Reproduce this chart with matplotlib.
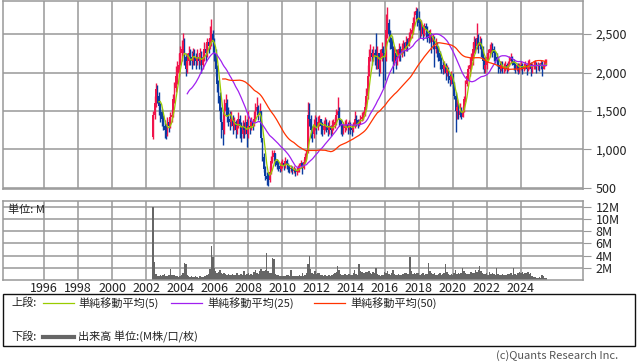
import numpy as np
import pandas as pd
import matplotlib
matplotlib.use("Agg")
import matplotlib.pyplot as plt
from matplotlib.patches import Rectangle
from matplotlib.lines import Line2D
from matplotlib.transforms import blended_transform_factory

FONT = ['Noto Sans CJK JP', 'DejaVu Sans']
plt.rcParams['font.family'] = FONT

# ---------------- data (monthly, Jun 2002 .. Jul 2025) ----------------
start_year, start_month = 2002, 6
first_open = 1160

close = [
    1450, 1600, 1780, 1700, 1560, 1480, 1400,                                  # 2002
    1300, 1250, 1200, 1350, 1300, 1420, 1450, 1650, 1800, 1950, 2000, 2100,    # 2003
    2250, 2300, 2400, 2200, 2050, 2150, 2250, 2200, 2150, 2250, 2200, 2150,    # 2004
    2200, 2150, 2250, 2100, 2200, 2300, 2250, 2400, 2350, 2450, 2500, 2400,    # 2005
    2250, 2050, 1850, 1700, 1500, 1350, 1250, 1500, 1600, 1450, 1400, 1350,    # 2006
    1400, 1300, 1350, 1250, 1300, 1400, 1300, 1200, 1300, 1250, 1350, 1200,    # 2007
    1300, 1280, 1350, 1300, 1400, 1500, 1550, 1450, 1500, 1150, 900, 750,      # 2008
    650, 620, 600, 700, 850, 900, 950, 850, 800, 780, 750, 800,                # 2009
    820, 780, 850, 800, 760, 740, 760, 720, 740, 700, 720, 760,                # 2010
    780, 820, 760, 830, 900, 950, 1450, 1400, 1250, 1200, 1300, 1350,          # 2011
    1300, 1350, 1400, 1300, 1250, 1300, 1350, 1300, 1250, 1300, 1250, 1300,    # 2012
    1320, 1350, 1450, 1500, 1380, 1300, 1250, 1280, 1300, 1320, 1280, 1320,    # 2013
    1280, 1250, 1300, 1400, 1380, 1330, 1350, 1400, 1420, 1450, 1550, 1700,    # 2014
    1950, 2200, 2250, 2200, 2250, 2200, 2150, 2250, 2050, 2200, 2300, 2250,    # 2015
    2200, 2550, 2650, 2500, 2450, 2300, 2200, 2250, 2150, 2200, 2300, 2250,    # 2016
    2300, 2350, 2300, 2400, 2350, 2450, 2500, 2550, 2650, 2750, 2800, 2700,    # 2017
    2650, 2550, 2600, 2500, 2600, 2550, 2500, 2450, 2500, 2400, 2450, 2300,    # 2018
    2350, 2300, 2250, 2150, 2100, 2050, 2100, 2000, 2050, 1950, 1900, 1950,    # 2019
    1850, 1700, 1500, 1550, 1450, 1500, 1420, 1500, 1650, 1850, 1950, 2050,    # 2020
    2100, 2150, 2300, 2400, 2350, 2450, 2350, 2400, 2300, 2150, 2050, 2100,    # 2021
    2200, 2250, 2300, 2350, 2300, 2250, 2200, 2150, 2100, 2050, 2100, 2050,    # 2022
    2050, 2100, 2050, 2100, 2150, 2200, 2150, 2100, 2050, 2100, 2050, 2080,    # 2023
    2100, 2050, 2080, 2100, 2050, 2100, 2120, 2050, 2080, 2100, 2120, 2080,    # 2024
    2100, 2080, 2120, 2050, 2100, 2130, 2150,                                  # 2025
]
high = [
    1500, 1700, 1870, 1840, 1750, 1600, 1520,
    1450, 1380, 1330, 1420, 1400, 1480, 1520, 1720, 1880, 2080, 2150, 2250,
    2350, 2420, 2520, 2450, 2250, 2250, 2350, 2300, 2280, 2320, 2300, 2250,
    2300, 2250, 2320, 2280, 2280, 2400, 2380, 2450, 2450, 2600, 2700, 2550,
    2450, 2300, 2100, 1900, 1750, 1550, 1400, 1650, 1720, 1650, 1550, 1500,
    1500, 1450, 1420, 1380, 1400, 1480, 1450, 1350, 1380, 1350, 1450, 1400,
    1500, 1400, 1420, 1400, 1500, 1600, 1680, 1580, 1600, 1500, 1150, 950,
    780, 700, 700, 780, 920, 990, 990, 950, 880, 850, 820, 850,
    880, 850, 900, 880, 820, 800, 800, 780, 780, 760, 770, 800,
    820, 860, 840, 880, 950, 990, 1610, 1600, 1450, 1300, 1400, 1450,
    1420, 1440, 1450, 1400, 1350, 1380, 1420, 1400, 1350, 1380, 1320, 1380,
    1400, 1420, 1520, 1680, 1550, 1400, 1330, 1350, 1380, 1400, 1350, 1380,
    1350, 1320, 1360, 1500, 1450, 1400, 1400, 1450, 1480, 1500, 1620, 1800,
    2100, 2300, 2370, 2300, 2350, 2300, 2520, 2350, 2250, 2300, 2400, 2350,
    2300, 2760, 2850, 2700, 2550, 2480, 2350, 2350, 2300, 2300, 2380, 2350,
    2380, 2420, 2400, 2480, 2450, 2530, 2580, 2620, 2720, 2800, 2850, 2840,
    2800, 2700, 2680, 2620, 2650, 2650, 2600, 2550, 2560, 2520, 2500, 2480,
    2450, 2400, 2350, 2280, 2200, 2150, 2150, 2120, 2100, 2070, 2000, 2020,
    2000, 1880, 1750, 1650, 1600, 1600, 1550, 1560, 1700, 1900, 2000, 2100,
    2200, 2250, 2400, 2480, 2450, 2650, 2500, 2480, 2450, 2350, 2200, 2200,
    2250, 2300, 2370, 2400, 2380, 2350, 2280, 2250, 2200, 2150, 2150, 2150,
    2120, 2150, 2130, 2150, 2220, 2250, 2220, 2180, 2120, 2130, 2120, 2120,
    2150, 2130, 2130, 2150, 2120, 2160, 2170, 2140, 2130, 2150, 2160, 2140,
    2140, 2130, 2160, 2150, 2150, 2170, 2180,
]
low = [
    1140, 1400, 1550, 1600, 1450, 1350, 1300,
    1250, 1150, 1140, 1180, 1220, 1280, 1350, 1420, 1600, 1750, 1850, 1950,
    2100, 2150, 2250, 2100, 1950, 2000, 2100, 2100, 2050, 2100, 2100, 2050,
    2100, 2050, 2100, 2000, 2050, 2150, 2150, 2200, 2250, 2300, 2350, 2250,
    2150, 1950, 1750, 1600, 1400, 1150, 1060, 1200, 1450, 1350, 1300, 1250,
    1300, 1200, 1250, 1150, 1200, 1280, 1150, 1100, 1150, 1150, 1200, 1030,
    1150, 1200, 1250, 1250, 1300, 1400, 1450, 1380, 1400, 1100, 850, 700,
    600, 540, 530, 580, 680, 820, 850, 780, 740, 720, 700, 720,
    760, 730, 760, 740, 700, 690, 700, 680, 690, 660, 670, 700,
    700, 760, 680, 740, 820, 880, 950, 1300, 1150, 1100, 1150, 1250,
    1200, 1250, 1300, 1200, 1180, 1200, 1250, 1220, 1180, 1200, 1180, 1200,
    1250, 1280, 1320, 1400, 1300, 1200, 1180, 1200, 1230, 1250, 1200, 1250,
    1200, 1180, 1230, 1280, 1300, 1280, 1300, 1330, 1370, 1380, 1430, 1530,
    1650, 1950, 2150, 2100, 2150, 2100, 2050, 2050, 1950, 2000, 2150, 1800,
    1900, 2150, 2450, 2400, 2300, 2150, 2000, 2100, 2050, 2100, 2150, 2150,
    2200, 2250, 2220, 2280, 2280, 2350, 2420, 2450, 2500, 2600, 2680, 2600,
    2550, 2450, 2480, 2420, 2480, 2450, 2400, 2380, 2400, 2250, 2300, 2070,
    2250, 2200, 2150, 2050, 2000, 1980, 2000, 1900, 1950, 1870, 1820, 1850,
    1800, 1650, 1220, 1400, 1400, 1420, 1400, 1420, 1480, 1620, 1820, 1900,
    1950, 2050, 2100, 2250, 2250, 2300, 2250, 2300, 2200, 2050, 2000, 2000,
    2050, 2150, 2200, 2250, 2200, 2150, 2120, 2080, 2000, 2000, 2020, 2000,
    2000, 2020, 2000, 2020, 2080, 2120, 2100, 2030, 1990, 2020, 1980, 2000,
    2030, 1980, 2020, 2040, 1970, 2020, 2050, 1950, 2000, 2040, 2050, 2000,
    2030, 2020, 2050, 1950, 2040, 2080, 2100,
]
volume = [  # millions
    12.0, 3.0, 1.0, 0.6, 0.7, 0.8, 0.6,
    0.8, 1.0, 0.7, 0.6, 0.9, 1.8, 0.8, 0.9, 0.8, 0.6, 0.7, 0.5,
    0.7, 0.8, 1.2, 2.8, 2.6, 0.8, 0.6, 0.5, 0.6, 0.5, 0.5, 0.6,
    0.5, 0.4, 0.6, 0.5, 0.5, 0.6, 0.7, 0.8, 1.0, 1.8, 5.5, 3.8,
    2.0, 1.5, 1.2, 1.3, 1.6, 1.2, 1.0, 1.1, 1.0, 0.9, 1.0, 0.8,
    0.9, 1.0, 0.9, 0.8, 1.1, 0.9, 0.8, 1.0, 0.9, 1.5, 0.9, 1.0,
    1.2, 0.9, 1.0, 0.8, 1.3, 1.6, 1.2, 1.0, 1.5, 1.8, 1.4, 1.5,
    1.6, 4.4, 1.5, 1.2, 1.2, 3.6, 3.4, 1.0, 0.9, 0.8, 0.7, 0.7,
    0.6, 0.7, 0.7, 0.9, 0.8, 0.6, 1.7, 0.7, 0.6, 0.7, 0.6, 0.7,
    0.8, 0.7, 1.2, 0.6, 0.9, 1.1, 2.7, 3.9, 1.8, 1.2, 1.0, 1.4,
    1.0, 1.2, 1.1, 0.9, 0.8, 0.7, 0.9, 0.6, 0.7, 0.8, 0.7, 0.9,
    1.0, 1.1, 1.3, 2.3, 1.6, 1.0, 0.8, 0.9, 1.0, 0.8, 0.9, 1.0,
    0.8, 0.9, 1.2, 1.6, 1.0, 0.9, 2.7, 1.4, 1.3, 1.1, 1.2, 1.3,
    1.3, 1.5, 1.2, 1.0, 1.3, 1.2, 1.9, 1.0, 0.9, 0.7, 0.8, 0.9,
    1.3, 1.1, 1.4, 1.0, 0.8, 1.2, 1.6, 1.0, 0.9, 0.8, 1.0, 0.9,
    0.9, 1.0, 1.1, 1.2, 1.0, 1.0, 3.8, 1.5, 1.0, 1.2, 1.0, 1.1,
    1.2, 0.9, 1.0, 1.1, 0.9, 1.0, 1.0, 2.8, 1.4, 1.1, 1.0, 1.2,
    0.9, 0.8, 1.0, 1.1, 0.9, 1.0, 1.1, 2.6, 1.3, 1.0, 0.9, 1.0,
    0.9, 1.2, 1.6, 1.0, 1.1, 1.0, 1.1, 2.0, 1.5, 1.2, 1.0, 1.0,
    1.0, 1.3, 1.2, 1.1, 1.6, 1.3, 1.7, 2.3, 1.4, 1.2, 1.0, 1.0,
    1.1, 0.9, 1.3, 1.0, 1.2, 1.0, 0.9, 2.0, 1.0, 0.8, 0.9, 1.0,
    0.8, 0.9, 0.8, 1.0, 1.0, 1.1, 0.9, 2.0, 1.0, 0.8, 1.2, 1.3,
    1.2, 1.3, 1.0, 1.1, 1.2, 1.3, 1.0, 1.2, 0.7, 0.5, 0.5, 0.4,
    0.4, 0.5, 0.4, 0.8, 0.7, 0.4, 0.3,
]

price_ticks = [500, 1000, 1500, 2000, 2500]
volume_ticks = [2, 4, 6, 8, 10, 12]
year_ticks = list(range(1996, 2025, 2))
ma_periods = [5, 25, 50]
ma_colors = ['#99cc00', '#a020f0', '#ff3300']
ma_labels = ['単純移動平均(5)', '単純移動平均(25)', '単純移動平均(50)']

# ---------------- derived ----------------
n = len(close)
t = start_year + (start_month - 1 + np.arange(n)) / 12.0
c = np.array(close, float)
o = np.concatenate([[first_open], c[:-1]])
h = np.array(high, float)
l = np.array(low, float)
up = c >= o
UP, DN = '#f0144b', '#0a3ca0'
cols = np.where(up, UP, DN)

W, H = 638, 362
fig = plt.figure(figsize=(W / 100, H / 100), dpi=100)

def ax_rect(x0, y0, x1, y1):
    return [x0 / W, 1 - y1 / H, (x1 - x0) / W, (y1 - y0) / H]

def fx(px):
    return px / W

def fy(py):
    return 1 - py / H

GRID = '#999999'
TXT = '#222222'
FS = 8
xlim = (1993.6, 2027.65)

# price panel
ax = fig.add_axes(ax_rect(3, 1, 583, 189))
ax.set_xlim(*xlim)
ax.set_ylim(485, 2930)
for yv in price_ticks:
    ax.axhline(yv, color=GRID, lw=1.1, zorder=0)
for xv in year_ticks:
    ax.axvline(xv, color=GRID, lw=1.1, zorder=0)
ax.vlines(t, l, h, colors=cols, lw=1.0, zorder=2)
body_h = np.maximum(np.abs(c - o), 10)
ax.bar(t, body_h, bottom=np.minimum(o, c), width=0.1, color=cols, lw=0, zorder=2)
s = pd.Series(c)
for p, col in zip(ma_periods, ma_colors):
    ax.plot(t, s.rolling(p).mean(), color=col, lw=0.9, zorder=3)
ax.set_xticks([])
ax.yaxis.tick_right()
ax.set_yticks(price_ticks)
ax.set_yticklabels([f'{v:,}' for v in price_ticks])
ax.tick_params(axis='y', length=6, color=GRID, pad=3, labelsize=FS + 1, labelcolor=TXT)
for sp in ax.spines.values():
    sp.set_color(GRID)
    sp.set_linewidth(1.1)

# volume panel
av = fig.add_axes(ax_rect(3, 201, 583, 280))
av.set_xlim(*xlim)
av.set_ylim(0, 12.95)
for yv in volume_ticks:
    av.axhline(yv, color=GRID, lw=1.1, zorder=0)
for xv in year_ticks:
    av.axvline(xv, color=GRID, lw=1.1, zorder=0)
av.bar(t, volume, width=1 / 12, color='#666666', lw=0, zorder=2)
av.set_xticks([])
av.yaxis.tick_right()
av.set_yticks(volume_ticks)
av.set_yticklabels([f'{v}M' for v in volume_ticks])
av.tick_params(axis='y', length=6, color=GRID, pad=3, labelsize=FS + 1, labelcolor=TXT)
for sp in av.spines.values():
    sp.set_color(GRID)
    sp.set_linewidth(1.1)
av.text(0.008, 0.89, '単位: M', transform=av.transAxes, fontsize=FS,
        va='center', ha='left', color=TXT, zorder=5)

# year labels below the volume panel
btr = blended_transform_factory(av.transData, fig.transFigure)
for yr in year_ticks:
    fig.text(yr, fy(288), str(yr), transform=btr, fontsize=FS + 1, ha='center',
             va='center', color=TXT)

# legend box
fig.add_artist(Rectangle((fx(3), fy(346)), fx(635) - fx(3), fy(294) - fy(346),
                         transform=fig.transFigure, fill=False, ec='#111111', lw=1.0))
ly1, ly2 = 303, 337
fig.text(fx(11), fy(ly1), '上段:', fontsize=FS, va='center', ha='left', color=TXT)
legend_x = [(43, 74, 78), (171, 202, 207), (314, 345, 350)]
for (x0, x1, tx), col, lab in zip(legend_x, ma_colors, ma_labels):
    fig.add_artist(Line2D([fx(x0), fx(x1)], [fy(ly1), fy(ly1)], color=col, lw=0.9,
                          transform=fig.transFigure))
    fig.text(fx(tx), fy(ly1), lab, fontsize=FS, va='center', ha='left', color=TXT)
fig.text(fx(11), fy(ly2), '下段:', fontsize=FS, va='center', ha='left', color=TXT)
fig.add_artist(Line2D([fx(43), fx(74)], [fy(ly2), fy(ly2)], color='#666666', lw=3.0,
                      transform=fig.transFigure))
fig.text(fx(78), fy(ly2), '出来高 単位:(M株/口/枚)', fontsize=FS, va='center', ha='left',
         color=TXT)

fig.text(fx(618), fy(356), '(c)Quants Research Inc.', fontsize=FS, va='center', ha='right',
         color='#555555')

fig.savefig('out.png', dpi=100)
